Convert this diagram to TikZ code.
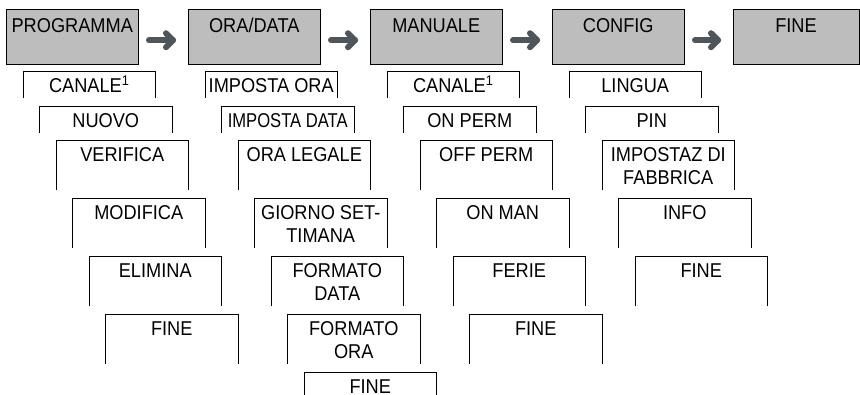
\documentclass[tikz,border=0pt]{standalone}
\usepackage{fontspec}
\setmainfont{Liberation Sans}[FakeStretch=0.91]
\newfontfamily\narrowfont{Liberation Sans}[FakeStretch=0.83]
\definecolor{boxgray}{RGB}{189,189,189}
\definecolor{arrowgray}{RGB}{80,85,90}
\tikzset{
  menufont/.style={font=\fontsize{20}{22.5}\selectfont},
  topbox/.style={draw=black, fill=boxgray, line width=0.9pt, inner sep=0pt, outer sep=0pt,
    minimum width=132.5pt, text height=23pt, text depth=31.7pt, anchor=north, menufont},
  subbox/.style={inner sep=0pt, outer sep=0pt, minimum width=132.5pt, text height=22pt,
    anchor=north, align=center, menufont},
  shortbox/.style={subbox, text depth=5pt},
  tallbox/.style={subbox, text depth=28.5pt},
  twoline/.style={subbox, text height=44.5pt, text depth=6pt},
  openline/.style={line width=0.9pt, draw=black},
  navarrow/.style={draw=arrowgray, line width=6pt, line cap=round, line join=round},
}
\begin{document}
\begin{tikzpicture}[x=1pt, y=-1pt]
\useasboundingbox (0,0) rectangle (860,395);

% top row
\node[topbox] (t1) at (72.25,9.3) {PROGRAMMA};
\node[topbox] (t2) at (254.25,9.3) {ORA/DATA};
\node[topbox] (t3) at (436.25,9.3) {MANUALE};
\node[topbox] (t4) at (618.25,9.3) {CONFIG};
\node[topbox, minimum width=126pt] (t5) at (796,9.3) {FINE};

% arrows
\foreach \a/\b in {t1/t2, t2/t3, t3/t4, t4/t5}{
  \draw[navarrow] ([xshift=10.5pt, yshift=-3.6pt]\a.east) -- ([xshift=-15pt, yshift=-3.6pt]\b.west);
  \draw[navarrow] ([xshift=-22pt, yshift=3.4pt]\b.west) -- ([xshift=-15pt, yshift=-3.6pt]\b.west)
     -- ([xshift=-22pt, yshift=-10.6pt]\b.west);
}

% column 1
\node[shortbox] (a1) at (89.25,71) {CANALE\textsuperscript{1}};
\node[shortbox] (a2) at (105.75,106) {NUOVO};
\node[tallbox] (a3) at (122.25,140) {VERIFICA};
\node[tallbox, text depth=28pt] (a4) at (138.75,198) {MODIFICA};
\node[tallbox] (a5) at (155.25,256) {ELIMINA};
\node[tallbox] (a6) at (171.75,314) {FINE};

% column 2
\node[shortbox] (b1) at (271.25,71) {IMPOSTA ORA};
\node[shortbox] (b2) at (287.75,106) {\narrowfont IMPOSTA DATA};
\node[tallbox] (b3) at (304.25,140) {ORA LEGALE};
\node[twoline, text depth=5.5pt] (b4) at (320.75,198) {GIORNO SET-\\TIMANA};
\node[twoline] (b5) at (337.25,256) {FORMATO\\DATA};
\node[twoline] (b6) at (353.75,314) {FORMATO\\ORA};
\node[subbox, text depth=1pt] (b7) at (370.25,372) {FINE};

% column 3
\node[shortbox] (c1) at (453.25,71) {CANALE\textsuperscript{1}};
\node[shortbox] (c2) at (469.75,106) {ON PERM};
\node[tallbox] (c3) at (486.25,140) {OFF PERM};
\node[tallbox, text depth=28pt] (c4) at (502.75,198) {ON MAN};
\node[tallbox] (c5) at (519.25,256) {FERIE};
\node[tallbox] (c6) at (535.75,314) {FINE};

% column 4
\node[shortbox] (d1) at (635.25,71) {LINGUA};
\node[shortbox] (d2) at (651.75,106) {PIN};
\node[twoline] (d3) at (668.25,140) {IMPOSTAZ DI\\FABBRICA};
\node[tallbox, text depth=28pt] (d4) at (684.75,198) {INFO};
\node[tallbox] (d5) at (701.25,256) {FINE};

% open-bottom frames
\foreach \n in {a1,a2,a3,a4,a5,a6,b1,b2,b3,b4,b5,b6,b7,c1,c2,c3,c4,c5,c6,d1,d2,d3,d4,d5}{
  \draw[openline] (\n.south west) -- (\n.north west) -- (\n.north east) -- (\n.south east);
}
\end{tikzpicture}
\end{document}
